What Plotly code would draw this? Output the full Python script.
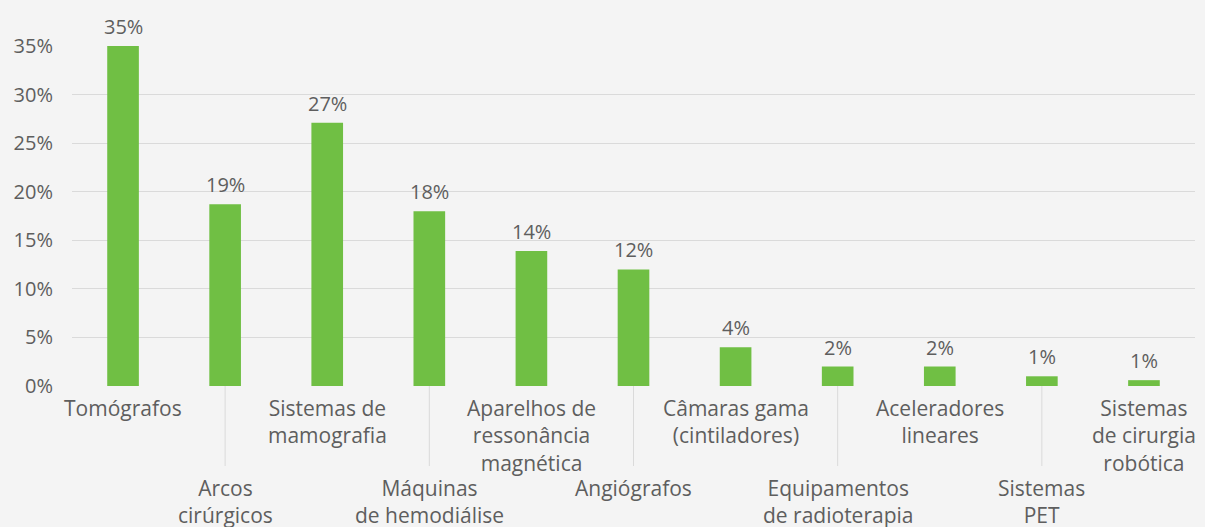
import plotly.graph_objects as go

categories = ["Tomógrafos", "Arcos<br>cirúrgicos", "Sistemas de<br>mamografia",
              "Máquinas<br>de hemodiálise", "Aparelhos de<br>ressonância<br>magnética",
              "Angiógrafos", "Câmaras gama<br>(cintiladores)", "Equipamentos<br>de radioterapia",
              "Aceleradores<br>lineares", "Sistemas<br>PET", "Sistemas<br>de cirurgia<br>robótica"]
values = [35.0, 18.7, 27.1, 18.0, 13.9, 12.0, 4.0, 2.0, 2.0, 1.0, 0.6]
value_labels = ["35%", "19%", "27%", "18%", "14%", "12%", "4%", "2%", "2%", "1%", "1%"]
y_ticks = [0, 5, 10, 15, 20, 25, 30, 35]
y_tick_text = ["0%", "5%", "10%", "15%", "20%", "25%", "30%", "35%"]

FONT = "'Open Sans', Lato, sans-serif"
TXT = "#5e5e5e"
GREEN = "#70bf44"
GRID = "#dadada"

fig = go.Figure()
fig.add_trace(go.Bar(x=list(range(len(categories))), y=values, marker_color=GREEN,
                     marker_line_width=0, hoverinfo="skip"))

annotations = []
shapes = []
plot_h = 527 - 46 - 141
for i, (c, v, t) in enumerate(zip(categories, values, value_labels)):
    annotations.append(dict(x=i, y=v, xref="x", yref="y", text=t, showarrow=False,
                            yanchor="bottom", yshift=4,
                            font=dict(family=FONT, size=20, color=TXT)))
    lower = (i % 2 == 1)
    annotations.append(dict(x=i, y=0, xref="x", yref="paper", text=c, showarrow=False,
                            yanchor="top", yshift=-86 if lower else -6, align="center",
                            font=dict(family=FONT, size=21, color=TXT)))
    if lower:
        shapes.append(dict(type="line", xref="x", yref="paper", x0=i, x1=i,
                           y0=0, y1=-80 / plot_h, line=dict(color=GRID, width=1)))

fig.update_layout(
    width=1205, height=527,
    margin=dict(l=72, r=10, t=46, b=141),
    paper_bgcolor="#f4f4f4", plot_bgcolor="#f4f4f4",
    bargap=0.69, showlegend=False,
    annotations=annotations, shapes=shapes,
    xaxis=dict(range=[-0.5, len(categories) - 0.5], showticklabels=False,
               showgrid=False, zeroline=False, showline=False, fixedrange=True),
    yaxis=dict(range=[0, 35], tickmode="array", tickvals=y_ticks, ticktext=y_tick_text,
               showgrid=True, gridcolor=GRID, gridwidth=1, zeroline=False,
               tickfont=dict(family=FONT, size=20, color=TXT),
               ticks="outside", ticklen=14, tickcolor="rgba(0,0,0,0)", fixedrange=True),
)
fig.write_html("out.html")
